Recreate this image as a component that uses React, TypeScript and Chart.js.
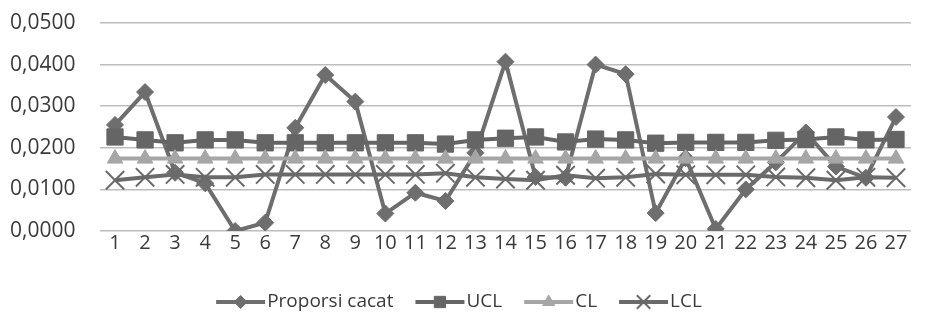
import { useEffect, useRef } from "react";
import { Chart, registerables } from "chart.js";
import { drawPoint } from "chart.js/helpers";

Chart.register(...registerables);

const categories = ["1","2","3","4","5","6","7","8","9","10","11","12","13","14","15","16","17","18","19","20","21","22","23","24","25","26","27"];
const proporsiCacat = [0.0255,0.0334,0.0140,0.0115,0.0000,0.0020,0.0248,0.0375,0.0311,0.0042,0.0092,0.0072,0.0188,0.0407,0.0130,0.0128,0.0400,0.0377,0.0043,0.0175,0.0005,0.0100,0.0165,0.0237,0.0155,0.0128,0.0274];
const ucl = [0.0226,0.0219,0.0212,0.0219,0.0219,0.0212,0.0212,0.0212,0.0212,0.0212,0.0212,0.0209,0.0219,0.0223,0.0226,0.0214,0.0221,0.0219,0.0211,0.0213,0.0213,0.0213,0.0218,0.0220,0.0226,0.0219,0.0220];
const cl = [0.0174,0.0174,0.0174,0.0174,0.0174,0.0174,0.0174,0.0174,0.0174,0.0174,0.0174,0.0174,0.0174,0.0174,0.0174,0.0174,0.0174,0.0174,0.0174,0.0174,0.0174,0.0174,0.0174,0.0174,0.0174,0.0174,0.0174];
const lcl = [0.0122,0.0129,0.0136,0.0129,0.0129,0.0136,0.0136,0.0136,0.0136,0.0136,0.0136,0.0139,0.0129,0.0125,0.0122,0.0134,0.0127,0.0129,0.0137,0.0135,0.0135,0.0135,0.0130,0.0128,0.0122,0.0129,0.0128];
const yMin = 0;
const yMax = 0.05;
const yStep = 0.01;

const FONT = "'Open Sans', 'Liberation Sans', sans-serif";
const TEXT = "#3a3a3a";

const seriesStyles = [
  { label: "Proporsi cacat", data: proporsiCacat, color: "#6e6e6e", style: "rectRot", radius: 8.5, legendRadius: 6.5, order: 3, pbw: 1 },
  { label: "UCL", data: ucl, color: "#656565", style: "rect", radius: 11.5, legendRadius: 8, order: 2, pbw: 1 },
  { label: "CL", data: cl, color: "#a6a6a6", style: "triangle", radius: 9, legendRadius: 7, order: 1, pbw: 1 },
  { label: "LCL", data: lcl, color: "#6a6a6a", style: "crossRot", radius: 13, legendRadius: 9.5, order: 0, pbw: 2 },
];

const legendPlugin = {
  id: "customLegend",
  afterDraw(chart: any) {
    const ctx = chart.ctx as CanvasRenderingContext2D;
    ctx.save();
    ctx.font = `19px ${FONT}`;
    const lineLen = 49;
    const gapText = 2;
    const gapItem = 22;
    const widths = seriesStyles.map((s) => lineLen + gapText + ctx.measureText(s.label).width);
    const total = widths.reduce((a, b) => a + b, 0) + gapItem * (widths.length - 1);
    let x = chart.width / 2 - 4 - total / 2;
    const y = 302;
    seriesStyles.forEach((s, i) => {
      ctx.strokeStyle = s.color;
      ctx.lineWidth = 4;
      ctx.beginPath();
      ctx.moveTo(x, y);
      ctx.lineTo(x + lineLen, y);
      ctx.stroke();
      ctx.fillStyle = s.color;
      ctx.lineWidth = s.pbw;
      drawPoint(ctx, { pointStyle: s.style as any, radius: s.legendRadius, rotation: 0, borderWidth: s.pbw }, x + lineLen / 2, y);
      ctx.fillStyle = TEXT;
      ctx.textBaseline = "middle";
      ctx.textAlign = "left";
      ctx.fillText(s.label, x + lineLen + gapText, y);
      x += widths[i] + gapItem;
    });
    ctx.restore();
  },
};

export default function App() {
  const ref = useRef<HTMLCanvasElement>(null);
  useEffect(() => {
    document.body.style.margin = "0";
    const chart = new Chart(ref.current!, {
      type: "line",
      data: {
        labels: categories,
        datasets: seriesStyles.map((s) => ({
          label: s.label,
          data: s.data,
          borderColor: s.color,
          backgroundColor: s.color,
          borderWidth: 4,
          pointStyle: s.style as any,
          pointRadius: s.radius,
          pointBorderWidth: s.pbw,
          pointBackgroundColor: s.color,
          pointBorderColor: s.color,
          tension: 0,
          order: s.order,
        })),
      },
      options: {
        animation: false,
        responsive: false,
        layout: { padding: { top: 23, right: 0, left: 10, bottom: 0 } },
        plugins: { legend: { display: false }, tooltip: { enabled: false } },
        scales: {
          x: {
            offset: true,
            grid: { display: false, drawTicks: false },
            border: { display: false },
            ticks: { font: { size: 20, family: FONT }, color: TEXT, padding: 0, maxRotation: 0, autoSkip: false },
            afterFit: (s: any) => { s.height = 93; },
          },
          y: {
            min: yMin,
            max: yMax,
            grid: { color: "#bdbdbd", lineWidth: 1.5, drawTicks: false },
            border: { display: false },
            ticks: {
              stepSize: yStep,
              font: { size: 21, family: FONT },
              color: TEXT,
              padding: 0,
              crossAlign: "far",
              callback: (v: any) => Number(v).toFixed(4).replace(".", ","),
            },
            afterFit: (s: any) => { s.width = 90; },
          },
        },
      },
      plugins: [legendPlugin],
    });
    return () => chart.destroy();
  }, []);
  return <canvas ref={ref} width={926} height={324} style={{ display: "block" }} />;
}
